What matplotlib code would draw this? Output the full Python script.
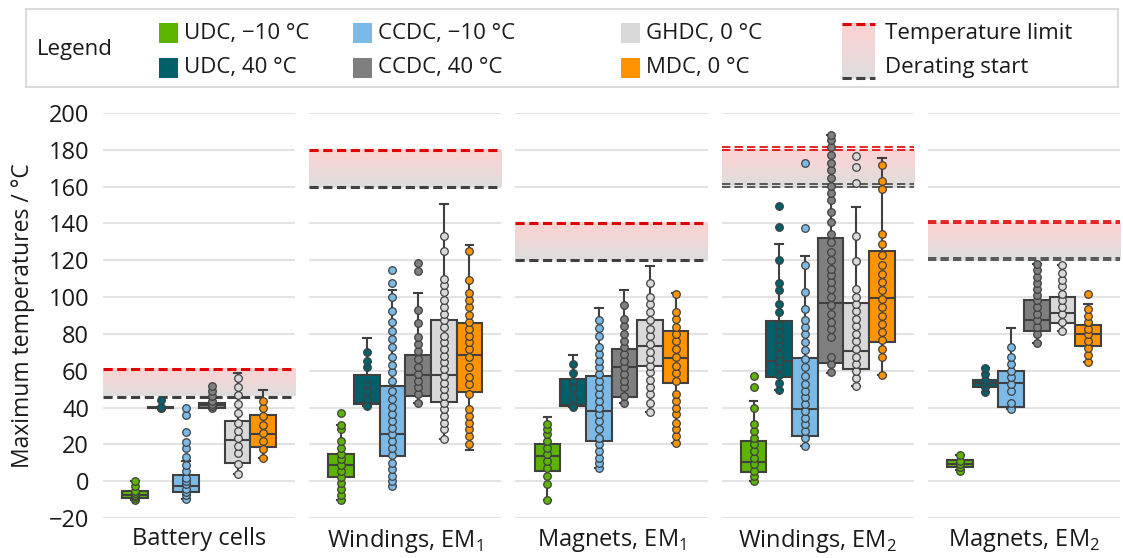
import numpy as np
import matplotlib.pyplot as plt
from matplotlib.colors import LinearSegmentedColormap
from matplotlib.patches import Rectangle

plt.rcParams['font.family'] = ['Open Sans', 'DejaVu Sans']

# --- data ---
panels = ['Battery cells', 'Windings, EM$_\\mathregular{1}$', 'Magnets, EM$_\\mathregular{1}$',
          'Windings, EM$_\\mathregular{2}$', 'Magnets, EM$_\\mathregular{2}$']
groups = ['UDC, \u221210 \u00b0C', 'UDC, 40 \u00b0C', 'CCDC, \u221210 \u00b0C',
          'CCDC, 40 \u00b0C', 'GHDC, 0 \u00b0C', 'MDC, 0 \u00b0C']
colors = ['#5cb300', '#00606a', '#7bbae7', '#7f7f7f', '#d9d9d9', '#ff9400']

temp_limit = [61, 180, 140, 180, 140]
derating_start = [46, 160, 120, 160, 120]

# box statistics, one row per panel, one column per group
q1 = [[-9, 40, -5.8, 40, 10, 18.5],
      [2.2, 41.8, 13.6, 46.4, 43, 48.2],
      [5.8, 41, 21.8, 46, 62.4, 53.6],
      [4.9, 56.4, 24.5, 64.2, 61, 75.8],
      [7.6, 51.3, 40.4, 81.8, 85.8, 73.6]]
med = [[-7.3, 40, -2.7, 41.3, 22.2, 25.5],
       [8.7, 42.7, 25.8, 57.8, 57.8, 68.7],
       [13.6, 41.5, 38, 61.8, 73.6, 66.7],
       [10.5, 65.5, 39, 96.9, 70.9, 99.5],
       [9.5, 53.1, 53.1, 87.3, 91.5, 80]]
q3 = [[-5.5, 40.4, 3.3, 42.7, 32.7, 35.8],
      [14.9, 57.8, 51.5, 68.7, 87.3, 85.8],
      [20.4, 55.5, 57.3, 71.8, 87.3, 81.8],
      [21.8, 86.9, 66.9, 132.2, 96.9, 124.9],
      [11.3, 54.9, 60, 98.5, 100, 84.9]]
whis_lo = [[-10, 40, -9.5, 40, 4, 12.7],
           [-10.4, 41, -2.7, 42.7, 22.7, 16.7],
           [-10, 40.4, 7.3, 42.2, 37.8, 20.9],
           [0, 49.5, 19, 59, 51.8, 57.6],
           [6, 48.5, 39.1, 74.9, 81.8, 64.5]]
whis_hi = [[0, 40.4, 11, 46, 58.5, 49.5],
           [30.5, 77.8, 103.6, 102.4, 150.5, 128.2],
           [35, 68.7, 94.2, 104, 116.7, 102.2],
           [43.6, 129, 122.5, 187.8, 148.7, 175.5],
           [14, 61.5, 83.1, 117.8, 117.3, 96.4]]

# individual runs (strip points)
pts_battery = [
    [-10, -9, -8, -7.3, -6.5, -5.5, -2.7, 0],
    [40, 40, 40.4, 44.2],
    [-9.5, -7.7, -5.8, -4, -1.8, 0, 1.8, 5.5, 8.7, 13.1, 17.8, 21.5, 26.7, 36, 39.6],
    [40, 41, 42, 43.6, 46.4, 49.1, 51.8],
    [4, 9.1, 15.5, 19.1, 23.3, 27.3, 31.8, 37.3, 41.8, 46.7, 51.3, 56],
    [12.7, 17.3, 21.8, 26.4, 30.5, 35.5, 40, 43.6]]
pts_wind1 = [
    [-10.4, -7.3, -4, -0.9, 2.2, 5.8, 8.7, 11.8, 14.9, 18.2, 21.8, 28.2, 30.5, 37.3],
    [41, 44.5, 49, 53, 61.8, 65.5, 70],
    [-2.7, 0, 2.7, 6.4, 10, 14.2, 18.2, 21.8, 25.5, 29.1, 32.7, 36.4, 40.4, 44.5, 49.1,
     54.5, 59.1, 63.1, 67.3, 72.7, 77.3, 81.8, 86.4, 92.7, 100, 107.6, 114.5],
    [42.7, 47.3, 50.9, 54.5, 58.2, 61.8, 66.4, 70.5, 74.5, 78.2, 85.8, 93.1, 114.2, 118.5],
    [22.7, 28.2, 31.8, 35.5, 39.1, 42.7, 46.4, 50, 53.6, 57.3, 60.9, 64.5, 68.2, 71.8,
     75.5, 79.1, 83.6, 87.3, 90.9, 94.5, 98.2, 102.7, 106.4, 110, 125.1, 133.1],
    [20, 24.5, 28.2, 31.8, 35.5, 39.1, 47.3, 52.7, 56.4, 61.8, 67.3, 71.8, 75.5, 79.1,
     82.7, 86.4, 90.5, 94.5, 98.2, 102.2, 109.5, 125.1]]
pts_mag1 = [
    [-10, -1.8, 2.7, 7.3, 10.9, 14.5, 18.2, 21.8, 25.5, 28.2, 31.3],
    [40.4, 45, 50.5, 54.5, 58.5, 63.6],
    [7.3, 10, 12.7, 16.4, 20, 23.6, 28.2, 32.7, 36.4, 40, 43.6, 47.3, 50.9, 54.5, 58.2,
     61.8, 65.5, 69.1, 72.7, 79.1, 83.3, 87.6],
    [42.2, 46.4, 50.9, 54.5, 58.2, 61.8, 65.5, 69.1, 72.7, 76.4, 80, 84.5, 88.2, 95.5],
    [37.8, 42.7, 47.3, 51.1, 55.1, 59.1, 62.7, 66.4, 70, 74.5, 79.1, 82.7, 87.3, 91.8,
     96, 100, 107.6],
    [20.9, 24.5, 28.2, 31.8, 36.4, 40, 43.6, 47.3, 54.5, 58.5, 62.7, 67.3, 71.8, 76.4,
     80, 83.6, 88.2, 91.8, 101.8]]
pts_wind2 = [
    [0, 2.7, 5.5, 9.1, 12.7, 16.4, 20, 23.6, 27.3, 30.9, 40, 51.3, 56.9],
    [49.5, 53.6, 57.8, 61.8, 65.5, 69.1, 73.6, 77.3, 80.9, 85.1, 91.8, 96.4, 103.6,
     107.6, 120, 138.2, 149.6],
    [19, 23.6, 27.3, 30.9, 34.5, 38.2, 41.8, 45.5, 49.1, 52.7, 57.3, 61.8, 66.4, 71.3,
     75.5, 80, 83.6, 87.3, 93.6, 102.7, 117.6, 137.8, 173.1],
    [59.1, 63.6, 67.3, 78.5, 82.7, 86.4, 90.9, 95.5, 100, 104.5, 108.2, 111.8, 115.5,
     120, 124.5, 130, 134.5, 140.9, 146.4, 152.7, 156.4, 160.4, 164.5, 169.1, 172.7,
     177.3, 181.8, 185.5, 187.8],
    [51.8, 55.8, 59.6, 63.6, 67.6, 71.8, 76, 80, 84.5, 88.2, 92.4, 96.4, 100, 104.5,
     119.5, 133.1, 162.2, 170.9, 176.7],
    [57.6, 67.3, 71.8, 76.7, 80.9, 85.5, 90, 94.5, 99.1, 103.6, 108.2, 112.7, 117.3,
     122.7, 129.1, 134.5, 158.5, 163.3, 171.8]]
pts_mag2 = [
    [5.8, 7.5, 9.5, 11, 14.2],
    [48.5, 51.3, 53.1, 55, 58.2, 61.5],
    [39.1, 42.7, 49.1, 52.7, 56.4, 60, 63.6, 67.3, 72.7],
    [74.9, 80, 83.6, 87.3, 90.9, 94.5, 98.2, 100.9, 104.5, 107.6, 110.9, 114.5, 117.8],
    [81.8, 86.4, 90.9, 94.5, 98.2, 101.8, 105.8, 109.5, 113.1, 117.3],
    [64.5, 68.7, 72.4, 76.4, 80, 82.7, 86.4, 90, 93.6, 101.5]]
points = [pts_battery, pts_wind1, pts_mag1, pts_wind2, pts_mag2]

# --- figure ---
fig = plt.figure(figsize=(11.23, 5.58), dpi=100)
edge = '#404040'
n_groups = len(groups)
box_w = 0.8 / n_groups
positions = [-0.4 + box_w * (i + 0.5) for i in range(n_groups)]
grad_cmap = LinearSegmentedColormap.from_list('lim', ['#dedede', '#ffd2d2'])
gradient = np.linspace(0, 1, 100).reshape(-1, 1)

left, right, bottom, top = 103 / 1123, 1120 / 1123, 1 - 518 / 558, 1 - 113 / 558
gap = 14 / 1123
pw = (right - left - 4 * gap) / 5

for p in range(5):
    ax = fig.add_axes([left + p * (pw + gap), bottom, pw, top - bottom])

    # limit band
    ax.imshow(gradient, cmap=grad_cmap, origin='lower', aspect='auto',
              extent=[-0.5, 0.5, derating_start[p], temp_limit[p]], zorder=1)
    if p >= 3:
        for off in (0, 1.3):
            ax.axhline(temp_limit[p] + off, color='#e00000', lw=1.2, ls=(0, (5, 2.5)), zorder=2)
            ax.axhline(derating_start[p] + off, color='#404040', lw=1.2, ls=(0, (5, 2.5)), zorder=2)
    else:
        ax.axhline(temp_limit[p], color='#e00000', lw=2.2, ls=(0, (3, 1.5)), zorder=2)
        ax.axhline(derating_start[p], color='#404040', lw=2.2, ls=(0, (3, 1.5)), zorder=2)

    stats = []
    for g in range(n_groups):
        stats.append(dict(med=med[p][g], q1=q1[p][g], q3=q3[p][g],
                          whislo=whis_lo[p][g], whishi=whis_hi[p][g], fliers=[]))
    bp = ax.bxp(stats, positions=positions, widths=box_w, patch_artist=True,
                showfliers=False, capwidths=0.04, manage_ticks=False,
                boxprops=dict(edgecolor=edge, linewidth=1.5),
                medianprops=dict(color=edge, linewidth=1.5),
                whiskerprops=dict(color=edge, linewidth=1.5),
                capprops=dict(color=edge, linewidth=1.5), zorder=3)
    for patch, c in zip(bp['boxes'], colors):
        patch.set_facecolor(c)

    for g in range(n_groups):
        vals = points[p][g]
        ax.scatter([positions[g]] * len(vals), vals, s=30, color=colors[g],
                   edgecolor=edge, linewidth=0.9, zorder=4, clip_on=False)

    ax.set_xlim(-0.5, 0.5)
    ax.set_ylim(-20, 200)
    ax.set_yticks(range(-20, 201, 20))
    ax.set_xticks([])
    ax.grid(axis='y', color='#e3e3e3', linewidth=1.5, zorder=0)
    ax.set_axisbelow(True)
    for s in ax.spines.values():
        s.set_visible(False)
    ax.tick_params(length=0, labelsize=17, pad=10, colors='#1a1a1a')
    if p > 0:
        ax.tick_params(labelleft=False)

    ax.text(0.5, -0.022, panels[p], transform=ax.transAxes, ha='center', va='top',
            fontsize=17, color='#1a1a1a')

fig.text(23 / 1123, 1 - 316 / 558, 'Maximum temperatures / \u00b0C', rotation=90,
         ha='center', va='center', fontsize=16.5, color='#1a1a1a')

# --- legend (drawn in pixel space) ---
lg = fig.add_axes([0, 0, 1, 1], zorder=10)
lg.set_xlim(0, 1123)
lg.set_ylim(558, 0)
lg.axis('off')
lg.add_patch(Rectangle((26, 9), 1092, 78, facecolor='white', edgecolor='#dcdcdc', lw=1.5))
lg.text(37, 50, 'Legend', fontsize=16, va='center', ha='left', color='#1a1a1a')
col_x = [159, 353, 621]
row_y = [33, 68]
for g in range(n_groups):
    x = col_x[g // 2]
    y = row_y[g % 2]
    lg.add_patch(Rectangle((x, y - 10), 19, 20, facecolor=colors[g], edgecolor='none'))
    lg.text(x + 25, y, groups[g], fontsize=16, va='center', ha='left', color='#1a1a1a')
lg.imshow(gradient, cmap=grad_cmap, origin='upper', aspect='auto',
          extent=[842, 875, 23, 79], zorder=1)
lg.plot([842, 875], [24, 24], color='#e00000', lw=2.2, ls=(0, (3, 1.5)))
lg.plot([842, 875], [78, 78], color='#404040', lw=2.2, ls=(0, (3, 1.5)))
lg.text(885, row_y[0], 'Temperature limit', fontsize=16, va='center', ha='left', color='#1a1a1a')
lg.text(885, row_y[1], 'Derating start', fontsize=16, va='center', ha='left', color='#1a1a1a')

fig.savefig('out.png', dpi=100)
